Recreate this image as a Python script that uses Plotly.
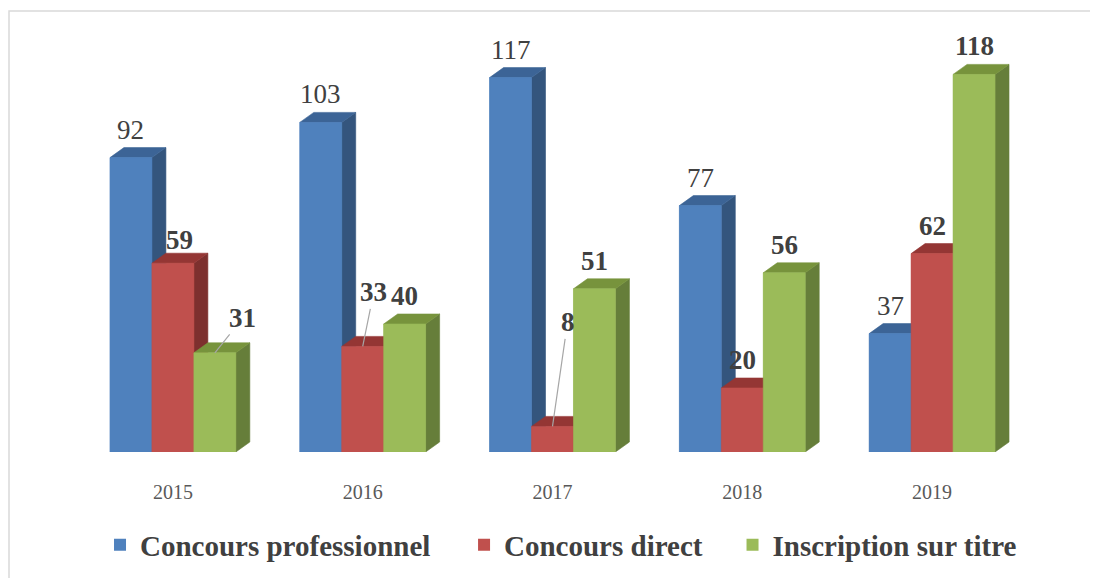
import plotly.graph_objects as go

# ---------------- data ----------------
years = ["2015", "2016", "2017", "2018", "2019"]
series_names = ["Concours professionnel", "Concours direct", "Inscription sur titre"]
concours_professionnel = [92, 103, 117, 77, 37]
concours_direct = [59, 33, 8, 20, 62]
inscription_sur_titre = [31, 40, 51, 56, 118]
series_values = [concours_professionnel, concours_direct, inscription_sur_titre]

# ---------------- style ----------------
front_colors = ["#4F81BD", "#C0504D", "#9BBB59"]
side_colors = ["#34557D", "#7D302E", "#667E3A"]
top_colors = ["#3C6496", "#943634", "#77933C"]
label_bold = [False, True, True]
FONT = "Liberation Serif, Times New Roman, DejaVu Serif, serif"
TXT = "#404040"

BAR_W = 42 / 190          # bar width in category units
DX = 14 / 190             # 3D depth, horizontal (category units)
DY = 10 / 3.2             # 3D depth, vertical (value units)
Y_MAX = 125

# label placement tweaks (style): (series, year index) -> (xshift, yshift) or leader (ax, ay)
label_shift = {(1, 0): (7, 23)}
leaders = {(2, 0): (28, -35), (1, 1): (11, -54), (1, 2): (15, -104)}

# legend placement (paper x of each legend entry)
legend_ids = ["legend", "legend2", "legend3"]
legend_x = [0.0232, 0.4068, 0.6897]

fig = go.Figure()

# legend / base bars (front faces, drawn through the bar trace)
for s, name in enumerate(series_names):
    xs = [i + (s - 1) * BAR_W for i in range(len(years))]
    fig.add_trace(go.Bar(
        x=xs, y=series_values[s], width=BAR_W, name=name,
        marker=dict(color=front_colors[s], line=dict(width=0)),
        hoverinfo="skip", legend=legend_ids[s],
    ))

# 3D faces built from the data, drawn series by series for proper occlusion
for s, name in enumerate(series_names):
    side_x, side_y, top_x, top_y, fr_x, fr_y = [], [], [], [], [], []
    for i, v in enumerate(series_values[s]):
        xc = i + (s - 1) * BAR_W
        xl, xr = xc - BAR_W / 2, xc + BAR_W / 2
        side_x += [xr, xr + DX, xr + DX, xr, xr, None]
        side_y += [0, DY, v + DY, v, 0, None]
        top_x += [xl, xr, xr + DX, xl + DX, xl, None]
        top_y += [v, v, v + DY, v + DY, v, None]
        fr_x += [xl, xr, xr, xl, xl, None]
        fr_y += [0, 0, v, v, 0, None]
    for xx, yy, col in ((side_x, side_y, side_colors[s]),
                        (top_x, top_y, top_colors[s]),
                        (fr_x, fr_y, front_colors[s])):
        fig.add_trace(go.Scatter(
            x=xx, y=yy, mode="lines", fill="toself", fillcolor=col,
            line=dict(color=col, width=0.6), showlegend=False, hoverinfo="skip",
        ))

# data labels
annotations = []
for s in range(3):
    for i, v in enumerate(series_values[s]):
        xc = i + (s - 1) * BAR_W
        txt = f"<b>{v}</b>" if label_bold[s] else str(v)
        font = dict(family=FONT, size=27, color=TXT)
        if (s, i) in leaders:
            ax, ay = leaders[(s, i)]
            annotations.append(dict(
                x=xc, y=v, xref="x", yref="y", text=txt, showarrow=True,
                arrowhead=0, arrowwidth=1.2, arrowcolor="#A6A6A6",
                ax=ax, ay=ay, standoff=0, font=font,
            ))
        else:
            xs_, ys_ = label_shift.get((s, i), (0, 28))
            annotations.append(dict(
                x=xc, y=v, xref="x", yref="y", text=txt, showarrow=False,
                xanchor="center", yanchor="middle", xshift=xs_, yshift=ys_,
                font=font,
            ))

legend_style = dict(
    orientation="h", xanchor="left", y=-0.2325, yanchor="middle",
    font=dict(family=FONT, size=29, color=TXT, weight="bold"),
    bgcolor="rgba(0,0,0,0)", itemclick=False, itemdoubleclick=False,
)
legends = {lid: dict(legend_style, x=lx) for lid, lx in zip(legend_ids, legend_x)}

fig.update_layout(
    width=1098, height=578,
    margin=dict(l=70, r=79, t=44, b=134),
    paper_bgcolor="white", plot_bgcolor="white",
    barmode="overlay",
    showlegend=True,
    **legends,
    xaxis=dict(
        range=[-0.5, 4.5], tickmode="array", tickvals=list(range(len(years))),
        ticktext=years, showgrid=False, zeroline=False, showline=False, ticks="",
        tickfont=dict(family=FONT, size=20, color="#595959"), ticklabelstandoff=26,
        fixedrange=True,
    ),
    yaxis=dict(range=[0, Y_MAX], visible=False, fixedrange=True),
    annotations=annotations,
    shapes=[dict(
        type="rect", xref="paper", yref="paper",
        x0=-0.0727, x1=1.09, y0=-0.36, y1=1.1025,
        line=dict(color="#D9D9D9", width=1.5), layer="below",
    )],
)

fig.write_html("out.html")
